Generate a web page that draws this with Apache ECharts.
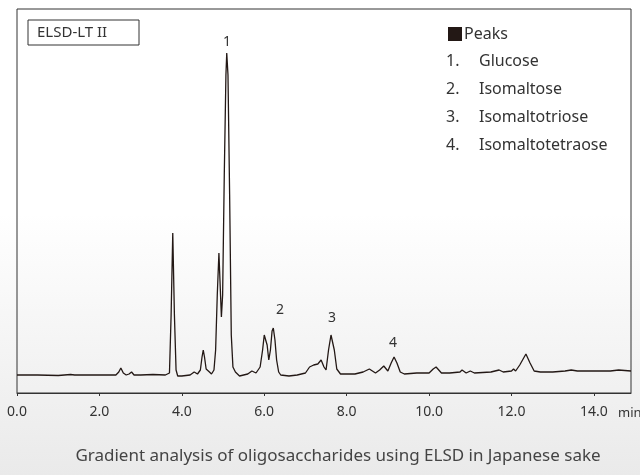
<!DOCTYPE html>
<html>
<head>
<meta charset="utf-8">
<style>
  html, body { margin: 0; padding: 0; }
  body { width: 640px; height: 475px; background: linear-gradient(to bottom, #ffffff 0%, #ffffff 45%, #eaeaea 100%); }
  #main { width: 640px; height: 475px; }
</style>
</head>
<body>
<div id="main"></div>
<script src="https://cdn.jsdelivr.net/npm/echarts@6/dist/echarts.min.js"></script>
<script>
// retention time (min)
var times = [0,0.5,1.0,1.3,1.4,2.0,2.4,2.47,2.52,2.58,2.65,2.72,2.78,2.84,3.0,3.3,3.6,3.7,3.74,3.78,3.82,3.86,3.9,4.0,4.2,4.3,4.38,4.45,4.49,4.52,4.55,4.59,4.62,4.67,4.72,4.78,4.82,4.86,4.90,4.93,4.96,4.99,5.03,5.07,5.09,5.12,5.16,5.2,5.24,5.3,5.4,5.5,5.6,5.7,5.8,5.9,5.96,6.0,6.03,6.07,6.11,6.15,6.19,6.22,6.26,6.3,6.35,6.4,6.6,6.8,7.0,7.1,7.2,7.3,7.38,7.45,7.5,7.56,7.62,7.66,7.7,7.76,7.85,8.0,8.2,8.4,8.55,8.7,8.8,8.9,9.0,9.08,9.15,9.22,9.3,9.4,9.7,10.0,10.1,10.17,10.3,10.5,10.75,10.8,10.9,11.0,11.1,11.5,11.7,11.8,12.0,12.05,12.1,12.2,12.35,12.45,12.55,12.7,13.0,13.3,13.45,13.6,14.0,14.4,14.6,14.9];
// detector response (arbitrary units)
var signal = [0,0,-0.5,0.5,0,0,0,3,7,2,0,1,3,0,0,0.5,0,2,60,142,60,5,-1,-1,0,3,1,5,18,25,18,6,5,3,1,5,25,80,122,90,58,80,200,300,322,300,180,40,8,3,-1,0,1,4,2,8,25,40,42,30,15,25,44,47,35,15,3,0,-1,0,2,8,10,11,15,8,5,25,40,38,25,6,1,1,1,3,6,2,5,9,4,12,18,12,3,1,2,2,6,8,2,2,3,5,2,4,2,3,5,3,4,6,4,10,21,12,4,3,3,4,5,4,4,4,5,4];
var peakNames = ['1.', '2.', '3.', '4.'];
var compounds = ['Glucose', 'Isomaltose', 'Isomaltotriose', 'Isomaltotetraose'];

var pts = times.map(function (t, i) { return [t, signal[i]]; });
var font = '"Noto Sans", "DejaVu Sans", sans-serif';

var graphics = [
  { type: 'rect', shape: { x: 28, y: 20, width: 111, height: 25 }, style: { fill: '#fff', stroke: '#333', lineWidth: 1 } },
  { type: 'text', x: 37, y: 33, style: { text: 'ELSD-LT II', font: '15px ' + font, fill: '#333', textVerticalAlign: 'middle' } },
  { type: 'rect', shape: { x: 448, y: 27, width: 14, height: 14 }, style: { fill: '#231815' } },
  { type: 'text', x: 464, y: 34, style: { text: 'Peaks', font: '16px ' + font, fill: '#333', textVerticalAlign: 'middle' } },
  { type: 'text', x: 223, y: 42, style: { text: '1', font: '14px ' + font, fill: '#333', textVerticalAlign: 'middle' } },
  { type: 'text', x: 276, y: 310, style: { text: '2', font: '14px ' + font, fill: '#333', textVerticalAlign: 'middle' } },
  { type: 'text', x: 328, y: 318, style: { text: '3', font: '14px ' + font, fill: '#333', textVerticalAlign: 'middle' } },
  { type: 'text', x: 389, y: 343, style: { text: '4', font: '14px ' + font, fill: '#333', textVerticalAlign: 'middle' } },
  { type: 'text', x: 618, y: 413, style: { text: 'min', font: '13px ' + font, fill: '#333', textVerticalAlign: 'middle' } },
  { type: 'text', x: 338, y: 456, style: { text: 'Gradient analysis of oligosaccharides using ELSD in Japanese sake', font: '17px ' + font, fill: '#444', textAlign: 'center', textVerticalAlign: 'middle' } }
];
peakNames.forEach(function (n, i) {
  var y = 61 + i * 28;
  graphics.push({ type: 'text', x: 446, y: y, style: { text: n, font: '16px ' + font, fill: '#333', textVerticalAlign: 'middle' } });
  graphics.push({ type: 'text', x: 479, y: y, style: { text: compounds[i], font: '16px ' + font, fill: '#333', textVerticalAlign: 'middle' } });
});

var chart = echarts.init(document.getElementById('main'));
chart.setOption({
  animation: false,
  backgroundColor: 'transparent',
  grid: { left: 17, right: 9, top: 9, bottom: 82, show: true, borderColor: '#333', borderWidth: 1, backgroundColor: 'transparent' },
  xAxis: {
    type: 'value', min: 0, max: 14.9, interval: 2,
    axisLine: { show: true, onZero: false, lineStyle: { color: '#333' } },
    axisTick: { show: true, length: 3, lineStyle: { color: '#333' } },
    splitLine: { show: false },
    axisLabel: { showMaxLabel: false, color: '#333', fontSize: 14, fontFamily: font, margin: 12,
      formatter: function (v) { return v.toFixed(1); } }
  },
  yAxis: { type: 'value', min: -18, max: 366, show: false },
  series: [{
    type: 'line', data: pts, symbol: 'none', smooth: false,
    lineStyle: { color: '#231815', width: 1.3 }
  }],
  graphic: graphics
});
</script>
</body>
</html>
